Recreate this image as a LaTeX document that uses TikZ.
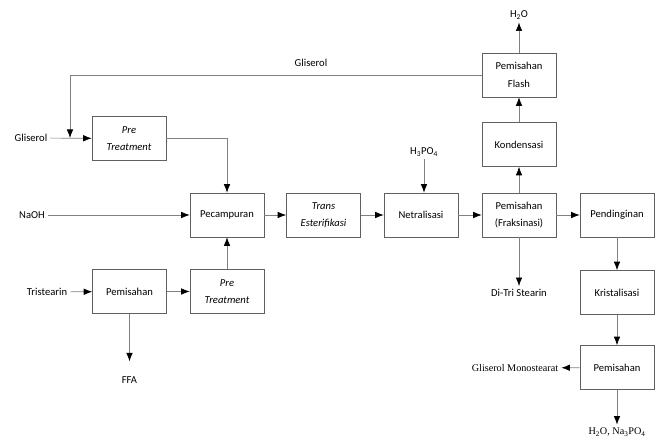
\documentclass[tikz,border=0pt]{standalone}
\usepackage{fontspec}
\setmainfont{Carlito}
\newfontfamily\timesfont{Liberation Serif}
\usetikzlibrary{arrows.meta}
\tikzset{
  proc/.style={draw=gray!75!black, line width=0.6pt, minimum width=74pt, minimum height=44pt,
    align=center, inner sep=1pt, font=\fontsize{10.6}{17.5}\selectfont},
  lbl/.style={inner sep=3pt, font=\fontsize{10.6}{12}\selectfont},
  tlbl/.style={inner sep=3pt, font=\timesfont\fontsize{10.2}{12}\selectfont},
  flow/.style={draw=gray, line width=0.7pt, -{Latex[black,length=8.5pt,width=6.5pt]}}
}
\begin{document}
\begin{tikzpicture}[x=1pt,y=-1pt]
    \useasboundingbox (0,0) rectangle (670,438);
    %% process blocks
    \node[proc] (pre1) at (129,138.5) {\textit{Pre}\\\textit{Treatment}};
    \node[proc] (pisah1) at (129.5,291.5) {Pemisahan};
    \node[proc] (pre2) at (227,291.5) {\textit{Pre}\\\textit{Treatment}};
    \node[proc] (campur) at (227,215) {Pecampuran};
    \node[proc] (trans) at (323.5,215) {\textit{Trans}\\\textit{Esterifikasi}};
    \node[proc] (netral) at (421,215) {Netralisasi};
    \node[proc] (fraksi) at (519,215) {Pemisahan\\(Fraksinasi)};
    \node[proc] (dingin) at (617,215) {Pendinginan};
    \node[proc] (kristal) at (617,292.5) {Kristalisasi};
    \node[proc] (pisah2) at (617,367.5) {Pemisahan};
    \node[proc] (kondens) at (519,144.5) {Kondensasi};
    \node[proc] (flash) at (519,75) {Pemisahan\\Flash};
    %% streams in and out
    \node[lbl] (gli) at (31,138) {Gliserol};
    \node[lbl] (naoh) at (32,215) {NaOH};
    \node[lbl] (tri) at (47,292) {Tristearin};
    \node[lbl] (ffa) at (129.5,380) {FFA};
    \node[lbl] (asam) at (424,152) {H\textsubscript{3}PO\textsubscript{4}};
    \node[lbl] (air) at (519,15) {H\textsubscript{2}O};
    \node[lbl] (ditri) at (519,293) {Di-Tri Stearin};
    \node[lbl] (glirec) at (311,63) {Gliserol};
    \node[tlbl] (gms) at (515,368) {Gliserol Monostearat};
    \node[tlbl] (sisa) at (617,432) {H\textsubscript{2}O, Na\textsubscript{3}PO\textsubscript{4}};
    \coordinate (gin) at (70,138);
    %% left side
    \draw[flow] (gli) -- (pre1);
    \draw[flow] (flash.west) -| (gin);
    \draw[flow] (pre1.east) -| (campur.north);
    \draw[flow] (naoh) -- (campur);
    \draw[flow] (tri) -- (pisah1);
    \draw[flow,shorten >=12pt] (pisah1) -- (ffa);
    \draw[flow] (pisah1) -- (pre2);
    \draw[flow] (pre2) -- (campur);
    %% main line
    \draw[flow] (campur) -- (trans);
    \draw[flow] (trans) -- (netral);
    \draw[flow] (asam) -- (asam |- netral.north);
    \draw[flow] (netral) -- (fraksi);
    \draw[flow] (fraksi) -- (dingin);
    \draw[flow] (fraksi) -- (ditri);
    %% top
    \draw[flow] (fraksi) -- (kondens);
    \draw[flow] (kondens) -- (flash);
    \draw[flow] (flash) -- (air);
    %% right
    \draw[flow] (dingin) -- (kristal);
    \draw[flow] (kristal) -- (pisah2);
    \draw[flow] (pisah2) -- (gms);
    \draw[flow] (pisah2) -- (sisa);
\end{tikzpicture}
\end{document}
